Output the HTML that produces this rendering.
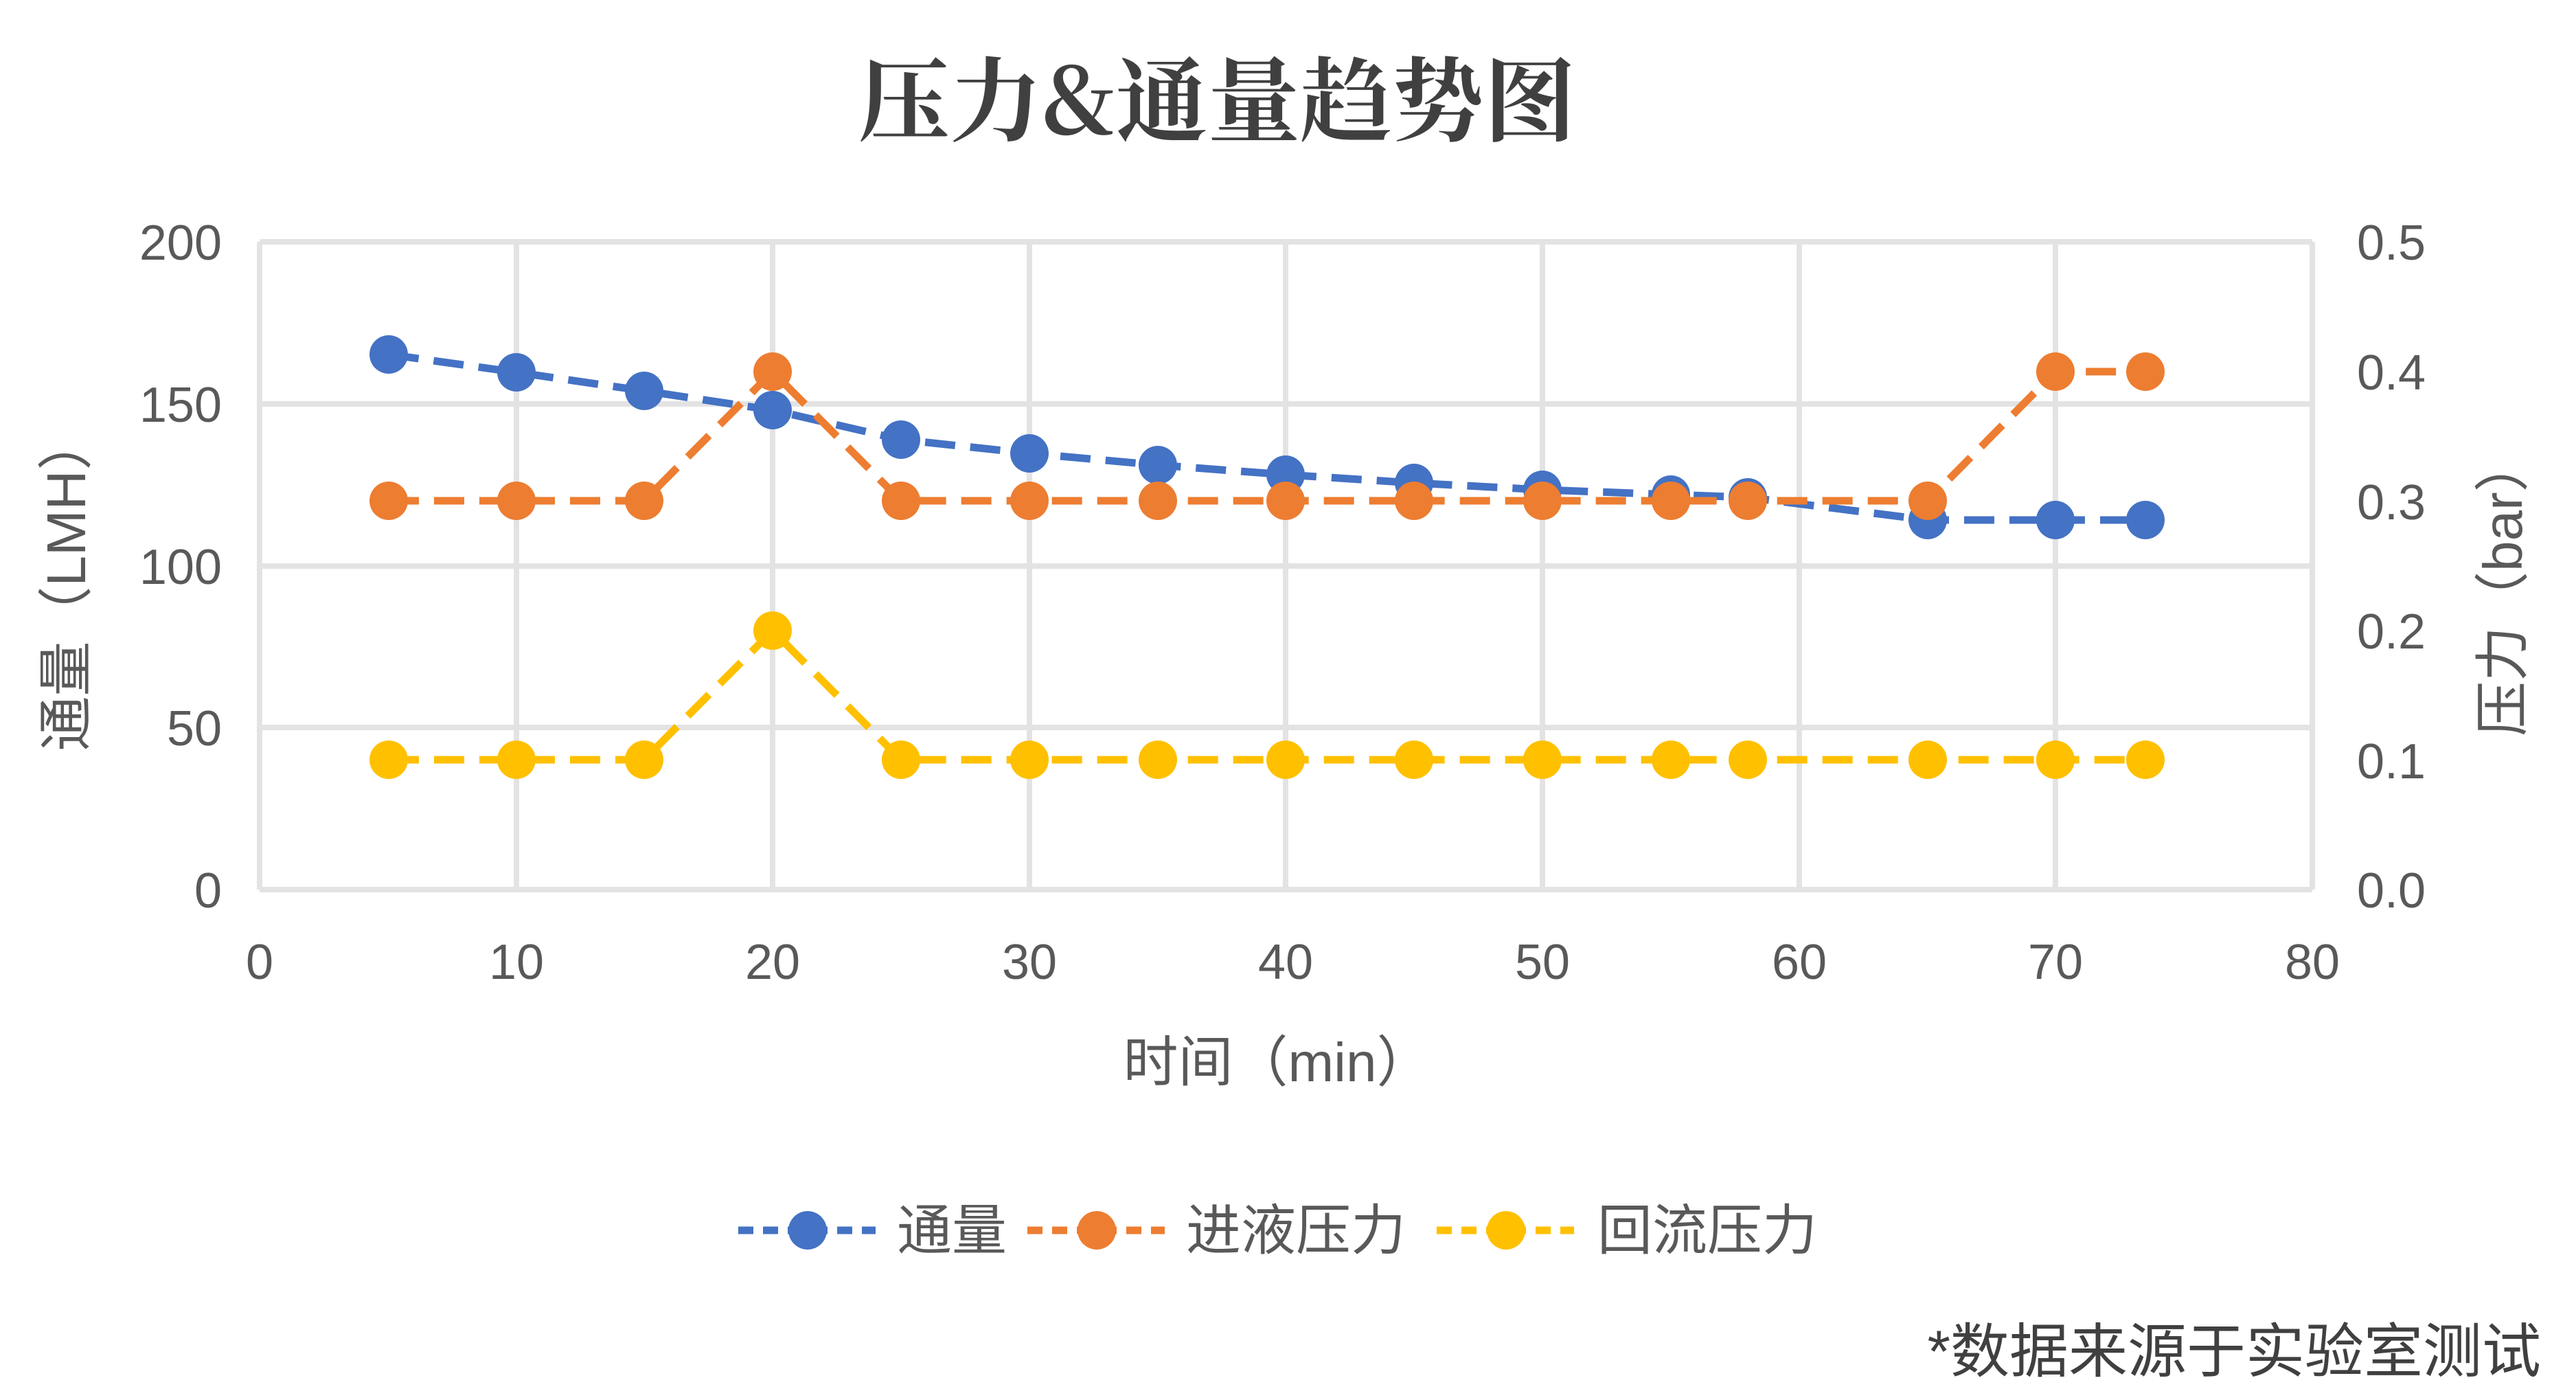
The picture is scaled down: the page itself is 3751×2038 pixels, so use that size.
<!DOCTYPE html>
<html><head><meta charset="utf-8"><style>
html,body{margin:0;padding:0;background:#fff;}
svg{display:block}
text{font-family:"Liberation Sans","Noto Sans CJK SC",sans-serif;fill:#595959}
</style></head><body>
<svg width="3751" height="2038" viewBox="0 0 3751 2038" xmlns="http://www.w3.org/2000/svg">
<rect width="3751" height="2038" fill="#fff"/>
<text x="1772" y="195" text-anchor="middle" font-size="134" font-weight="bold" style="fill:#404040;font-family:'Noto Serif CJK SC','Liberation Serif',serif">压力&amp;通量趋势图</text>
<g stroke="#e3e3e3" stroke-width="8" fill="none">
<line x1="378" y1="352" x2="3367" y2="352"/>
<line x1="378" y1="588" x2="3367" y2="588"/>
<line x1="378" y1="824" x2="3367" y2="824"/>
<line x1="378" y1="1059" x2="3367" y2="1059"/>
<line x1="378" y1="1295" x2="3367" y2="1295"/>
<line x1="378" y1="352" x2="378" y2="1295"/>
<line x1="752" y1="352" x2="752" y2="1295"/>
<line x1="1125" y1="352" x2="1125" y2="1295"/>
<line x1="1499" y1="352" x2="1499" y2="1295"/>
<line x1="1872" y1="352" x2="1872" y2="1295"/>
<line x1="2246" y1="352" x2="2246" y2="1295"/>
<line x1="2620" y1="352" x2="2620" y2="1295"/>
<line x1="2993" y1="352" x2="2993" y2="1295"/>
<line x1="3367" y1="352" x2="3367" y2="1295"/>
</g>
<g font-size="72" text-anchor="end">
<text x="323" y="378">200</text><text x="323" y="614">150</text><text x="323" y="850">100</text><text x="323" y="1085">50</text><text x="323" y="1321">0</text>
</g>
<g font-size="72" text-anchor="start">
<text x="3432" y="378">0.5</text><text x="3432" y="567">0.4</text><text x="3432" y="756">0.3</text><text x="3432" y="944">0.2</text><text x="3432" y="1133">0.1</text><text x="3432" y="1321">0.0</text>
</g>
<g font-size="72" text-anchor="middle">
<text x="378" y="1425">0</text><text x="752" y="1425">10</text><text x="1125" y="1425">20</text><text x="1499" y="1425">30</text><text x="1872" y="1425">40</text><text x="2246" y="1425">50</text><text x="2620" y="1425">60</text><text x="2993" y="1425">70</text><text x="3367" y="1425">80</text>
</g>
<text x="1860" y="1574" font-size="80" text-anchor="middle">时间（min）</text>
<text transform="translate(124,849) rotate(-90)" font-size="80" text-anchor="middle">通量（LMH）</text>
<text transform="translate(3672,854) rotate(-90)" font-size="80" text-anchor="middle">压力（bar）</text>
<g fill="none" stroke-width="11" stroke-dasharray="44 22">
<polyline stroke="#4472C4" points="566,516 752,542 938,569 1125,597 1312,640 1499,660 1686,677 1872,691 2059,703 2246,713 2433,720 2545,724 2807,757 2993,757 3124,757"/>
<polyline stroke="#ED7D31" points="566,729 752,729 938,729 1125,541 1312,729 1499,729 1686,729 1872,729 2059,729 2246,729 2433,729 2545,729 2807,729 2993,541 3124,541"/>
<polyline stroke="#FFC000" points="566,1106 752,1106 938,1106 1125,918 1312,1106 1499,1106 1686,1106 1872,1106 2059,1106 2246,1106 2433,1106 2545,1106 2807,1106 2993,1106 3124,1106"/>
</g>
<g fill="#4472C4">
<circle cx="566" cy="516" r="28"/><circle cx="752" cy="542" r="28"/><circle cx="938" cy="569" r="28"/><circle cx="1125" cy="597" r="28"/><circle cx="1312" cy="640" r="28"/><circle cx="1499" cy="660" r="28"/><circle cx="1686" cy="677" r="28"/><circle cx="1872" cy="691" r="28"/><circle cx="2059" cy="703" r="28"/><circle cx="2246" cy="713" r="28"/><circle cx="2433" cy="720" r="28"/><circle cx="2545" cy="724" r="28"/><circle cx="2807" cy="757" r="28"/><circle cx="2993" cy="757" r="28"/><circle cx="3124" cy="757" r="28"/>
</g>
<g fill="#ED7D31">
<circle cx="566" cy="729" r="28"/><circle cx="752" cy="729" r="28"/><circle cx="938" cy="729" r="28"/><circle cx="1125" cy="541" r="28"/><circle cx="1312" cy="729" r="28"/><circle cx="1499" cy="729" r="28"/><circle cx="1686" cy="729" r="28"/><circle cx="1872" cy="729" r="28"/><circle cx="2059" cy="729" r="28"/><circle cx="2246" cy="729" r="28"/><circle cx="2433" cy="729" r="28"/><circle cx="2545" cy="729" r="28"/><circle cx="2807" cy="729" r="28"/><circle cx="2993" cy="541" r="28"/><circle cx="3124" cy="541" r="28"/>
</g>
<g fill="#FFC000">
<circle cx="566" cy="1106" r="28"/><circle cx="752" cy="1106" r="28"/><circle cx="938" cy="1106" r="28"/><circle cx="1125" cy="918" r="28"/><circle cx="1312" cy="1106" r="28"/><circle cx="1499" cy="1106" r="28"/><circle cx="1686" cy="1106" r="28"/><circle cx="1872" cy="1106" r="28"/><circle cx="2059" cy="1106" r="28"/><circle cx="2246" cy="1106" r="28"/><circle cx="2433" cy="1106" r="28"/><circle cx="2545" cy="1106" r="28"/><circle cx="2807" cy="1106" r="28"/><circle cx="2993" cy="1106" r="28"/><circle cx="3124" cy="1106" r="28"/>
</g>
<g stroke-width="11" stroke-dasharray="22 14">
<line x1="1075" y1="1791" x2="1275" y2="1791" stroke="#4472C4"/>
<line x1="1496" y1="1791" x2="1696" y2="1791" stroke="#ED7D31"/>
<line x1="2092" y1="1791" x2="2292" y2="1791" stroke="#FFC000"/>
</g>
<circle cx="1176" cy="1791" r="28" fill="#4472C4"/>
<circle cx="1597" cy="1791" r="28" fill="#ED7D31"/>
<circle cx="2193" cy="1791" r="28" fill="#FFC000"/>
<g font-size="80">
<text x="1306" y="1819">通量</text>
<text x="1727" y="1819">进液压力</text>
<text x="2326" y="1819">回流压力</text>
</g>
<text x="3700" y="1997" font-size="86" text-anchor="end" style="fill:#404040">*数据来源于实验室测试</text>
</svg>
</body></html>
